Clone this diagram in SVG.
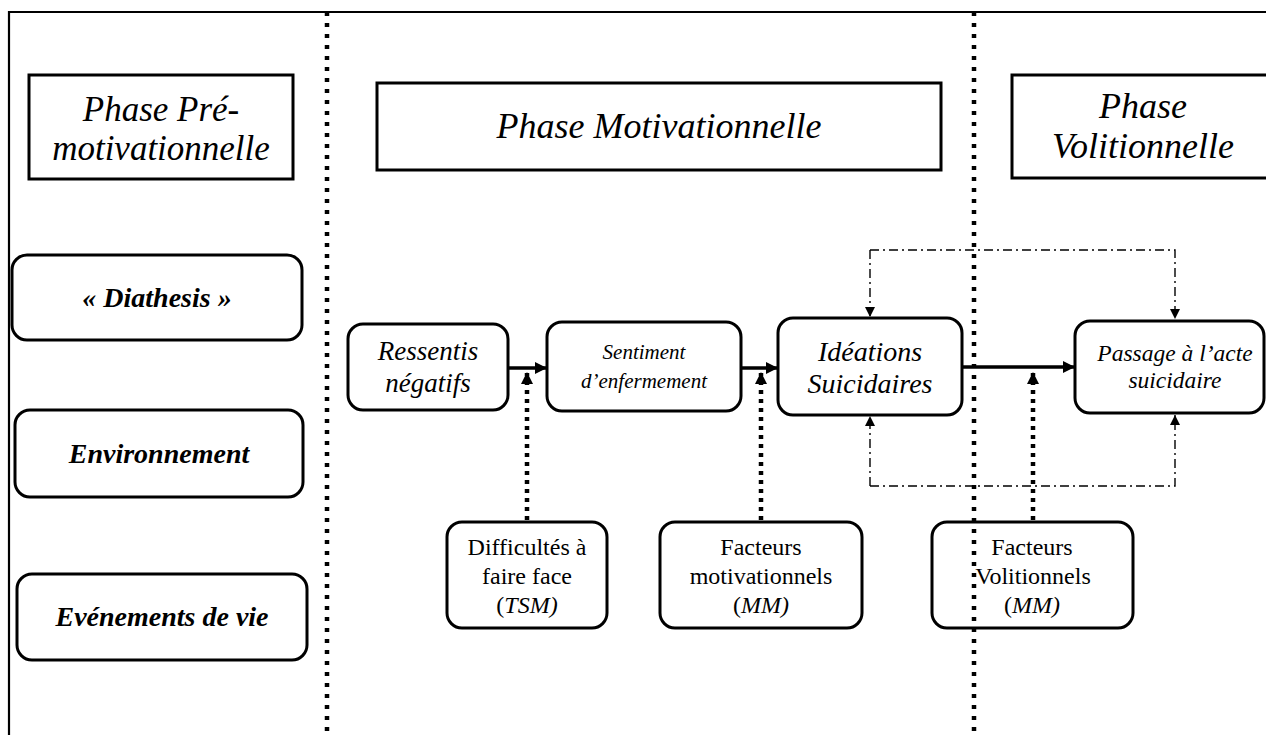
<svg xmlns="http://www.w3.org/2000/svg" width="1266" height="735" viewBox="0 0 1266 735">
<style>
  .frame { fill: none; stroke: #000; stroke-width: 2.2; }
  .divider { fill: none; stroke: #000; stroke-width: 4.5; stroke-dasharray: 4 7; }
  .phase { fill: #fff; stroke: #000; stroke-width: 3; }
  .rbox { fill: #fff; stroke: #000; stroke-width: 3; }
  text { font-family: 'Liberation Serif', 'DejaVu Serif', 'Times New Roman', serif; fill: #000; text-anchor: middle; }
  .ph { font-size: 36px; font-style: italic; }
  .ph2 { font-size: 35px; font-style: italic; }
  .lb { font-size: 28px; font-style: italic; font-weight: bold; }
  .fi { font-style: italic; }
  .fr { font-size: 24px; }
  .solid { fill: none; stroke: #000; stroke-width: 3.5; }
  .dot { fill: none; stroke: #000; stroke-width: 4.5; stroke-dasharray: 4 5; }
  .dd { fill: none; stroke: #000; stroke-width: 1.4; stroke-dasharray: 9 4 2 4; }
</style>
<defs>
  <marker id="arr" markerWidth="12" markerHeight="12" refX="11" refY="6" orient="auto" markerUnits="userSpaceOnUse">
    <path d="M0,0 L12,6 L0,12 Z" fill="#000"/>
  </marker>
  <marker id="arrs" markerWidth="10" markerHeight="10" refX="10" refY="5" orient="auto" markerUnits="userSpaceOnUse">
    <path d="M0,0 L10,5 L0,10 Z" fill="#000"/>
  </marker>
</defs>
<rect width="1266" height="735" fill="#fff"/>
<g id="frame">
  <path class="frame" d="M9,735 L9,12 L1266,12"/>
</g>

<g id="phase-premotivationnelle">
  <rect class="phase" x="29" y="75" width="264" height="104"/>
  <text class="ph2" x="161" y="121" font-family="Liberation Serif, serif">Phase Pré-</text>
  <text class="ph2" x="161" y="160" font-family="Liberation Serif, serif">motivationnelle</text>
</g>
<g id="phase-motivationnelle">
  <rect class="phase" x="377" y="83" width="564" height="87"/>
  <text class="ph" x="659" y="138" font-family="Liberation Serif, serif">Phase Motivationnelle</text>
</g>
<g id="phase-volitionnelle">
  <rect class="phase" x="1012" y="75" width="262" height="103"/>
  <text class="ph" x="1143" y="118" font-family="Liberation Serif, serif">Phase</text>
  <text class="ph" x="1143" y="158" font-family="Liberation Serif, serif">Volitionnelle</text>
</g>

<g id="diathesis">
  <rect class="rbox" x="12" y="255" width="290" height="85" rx="15"/>
  <text class="lb" x="157" y="307" font-family="Liberation Serif, serif">« Diathesis »</text>
</g>
<g id="environnement">
  <rect class="rbox" x="15" y="410" width="288" height="87" rx="15"/>
  <text class="lb" x="159" y="463" font-family="Liberation Serif, serif">Environnement</text>
</g>
<g id="evenements">
  <rect class="rbox" x="17" y="574" width="290" height="86" rx="15"/>
  <text class="lb" x="162" y="626" font-family="Liberation Serif, serif">Evénements de vie</text>
</g>

<g id="ressentis">
  <rect class="rbox" x="348" y="324" width="160" height="86" rx="15"/>
  <text class="fi" font-size="27" x="428" y="360" font-family="Liberation Serif, serif">Ressentis</text>
  <text class="fi" font-size="27" x="428" y="392" font-family="Liberation Serif, serif">négatifs</text>
</g>
<g id="sentiment">
  <rect class="rbox" x="547" y="322" width="194" height="89" rx="15"/>
  <text class="fi" font-size="21" x="644" y="359" font-family="Liberation Serif, serif">Sentiment</text>
  <text class="fi" font-size="21" x="644" y="388" font-family="Liberation Serif, serif">d’enfermement</text>
</g>
<g id="ideations">
  <rect class="rbox" x="778" y="318" width="184" height="97" rx="15"/>
  <text class="fi" font-size="28" x="870" y="361" font-family="Liberation Serif, serif">Idéations</text>
  <text class="fi" font-size="28" x="870" y="393" font-family="Liberation Serif, serif">Suicidaires</text>
</g>
<g id="passage">
  <rect class="rbox" x="1075" y="321" width="189" height="92" rx="15"/>
  <text class="fi" font-size="23.5" x="1175" y="361" font-family="Liberation Serif, serif">Passage à l’acte</text>
  <text class="fi" font-size="23.5" x="1175" y="388" font-family="Liberation Serif, serif">suicidaire</text>
</g>

<g id="difficultes">
  <rect class="rbox" x="447" y="522" width="160" height="106" rx="15"/>
  <text class="fr" x="527" y="555" font-family="Liberation Serif, serif">Difficultés à</text>
  <text class="fr" x="527" y="584" font-family="Liberation Serif, serif">faire face</text>
  <text class="fr" x="527" y="613" font-family="Liberation Serif, serif">(<tspan font-style="italic">TSM)</tspan></text>
</g>
<g id="facteurs-motivationnels">
  <rect class="rbox" x="660" y="522" width="202" height="106" rx="15"/>
  <text class="fr" x="761" y="555" font-family="Liberation Serif, serif">Facteurs</text>
  <text class="fr" x="761" y="584" font-family="Liberation Serif, serif">motivationnels</text>
  <text class="fr" x="761" y="613" font-family="Liberation Serif, serif">(<tspan font-style="italic">MM)</tspan></text>
</g>
<g id="facteurs-volitionnels">
  <rect class="rbox" x="932" y="522" width="201" height="106" rx="15"/>
  <text class="fr" x="1032" y="555" font-family="Liberation Serif, serif">Facteurs</text>
  <text class="fr" x="1033" y="584" font-family="Liberation Serif, serif">Volitionnels</text>
  <text class="fr" x="1032" y="613" font-family="Liberation Serif, serif">(<tspan font-style="italic">MM)</tspan></text>
</g>

<g id="connectors">
  <line class="solid" x1="508" y1="368" x2="546" y2="368" marker-end="url(#arr)"/>
  <line class="solid" x1="741" y1="368" x2="777" y2="368" marker-end="url(#arr)"/>
  <line class="solid" x1="962" y1="367" x2="1074" y2="367" marker-end="url(#arr)"/>
  <line class="dot" x1="527" y1="520" x2="527" y2="373" marker-end="url(#arr)"/>
  <line class="dot" x1="761" y1="520" x2="761" y2="373" marker-end="url(#arr)"/>
  <line class="dot" x1="1033" y1="520" x2="1033" y2="373" marker-end="url(#arr)"/>
  <path class="dd" d="M870,250 L1175,250 L1175,319" marker-end="url(#arrs)"/>
  <line class="dd" x1="870" y1="250" x2="870" y2="317" marker-end="url(#arrs)"/>
  <path class="dd" d="M870,486 L1175,486 L1175,415" marker-end="url(#arrs)"/>
  <line class="dd" x1="870" y1="486" x2="870" y2="416" marker-end="url(#arrs)"/>
</g>

<g id="dividers">
  <line class="divider" x1="327" y1="12" x2="327" y2="735"/>
  <line class="divider" x1="974" y1="12" x2="974" y2="735"/>
</g>
</svg>
